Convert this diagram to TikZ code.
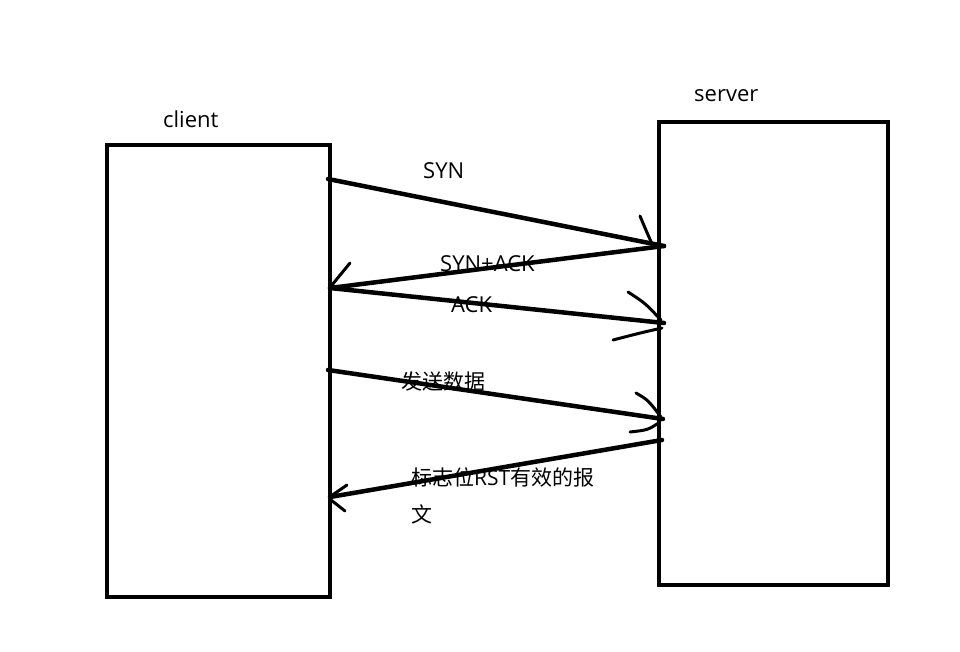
\documentclass[tikz,border=0pt]{standalone}
\usepackage{fontspec}
\setmainfont{Open Sans}
\newfontfamily\cjkfont{Noto Sans CJK SC}
\begin{document}
\begin{tikzpicture}[x=1pt,y=-1pt,
  box/.style={draw,line width=4pt,inner sep=0pt,outer sep=0pt},
  msg/.style={line width=4.5pt,line cap=round},
  tick/.style={line width=3pt,line cap=round},
  lbl/.style={font=\fontsize{22}{26}\selectfont,inner sep=0pt,anchor=west},
  clbl/.style={font=\fontsize{21}{26}\selectfont\cjkfont,inner sep=0pt,anchor=west}]
\useasboundingbox (0,0) rectangle (960,652);
\node[box,minimum width=223pt,minimum height=452pt] (client) at (218.5,371) {};
\node[box,minimum width=229pt,minimum height=463pt] (server) at (773.5,353.5) {};
\node[lbl] (clientlbl) at (163,119) {client};
\node[lbl] (serverlbl) at (694,96) {server};
% endpoints
\coordinate (a1) at (328,179);
\coordinate (b1) at (664,246);
\coordinate (a2) at (330,288);
\coordinate (b3) at (664,323);
\coordinate (a4) at (328,370);
\coordinate (b4) at (663,419);
\coordinate (b5) at (662,440);
\coordinate (a5) at (330,497);
% messages
\draw[msg] (a1) -- (b1);
\draw[msg] (b1) -- (a2);
\draw[msg] (a2) -- (b3);
\draw[msg] (a4) -- (b4);
\draw[msg] (b5) -- (a5);
% hand-drawn heads
\draw[tick] (640,216) .. controls (645,228) .. (652,244);
\draw[tick] (350,263) -- (332,285);
\draw[tick] (628,292) .. controls (645,303) .. (661,320);
\draw[tick] (613,340) .. controls (640,333) .. (662,328);
\draw[tick] (636,393) .. controls (648,400) .. (661,417);
\draw[tick] (630,432) .. controls (648,430) .. (660,422);
\draw[tick] (347,485) -- (331,496);
\draw[tick] (345,511) -- (331,500);
% labels
\node[lbl] (syn) at (423,171) {SYN};
\node[lbl] (synack) at (440,264) {SYN+ACK};
\node[lbl] (ack) at (451,305) {ACK};
\node[clbl] (send) at (401,382) {发送数据};
\node[clbl] (rst) at (411,477) {标志位{\fontsize{21}{26}\selectfont\rmfamily RST}有效的报};
\node[clbl] (rst2) at (411,514) {文};
\end{tikzpicture}
\end{document}
